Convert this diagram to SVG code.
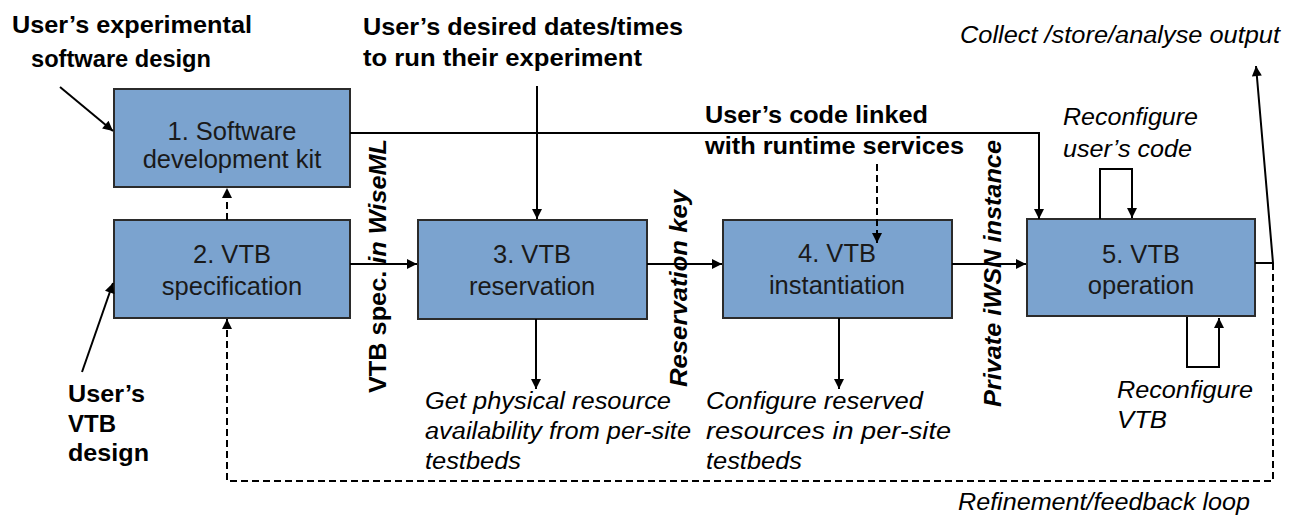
<svg xmlns="http://www.w3.org/2000/svg" width="1296" height="525" viewBox="0 0 1296 525">
<defs>
<marker id="ah" viewBox="0 0 10 10" refX="10" refY="5" markerWidth="11" markerHeight="10" markerUnits="userSpaceOnUse" orient="auto">
<path d="M0,0 L10,5 L0,10 z" fill="#000"/>
</marker>
<style>
.box{fill:#7BA3CF;stroke:#2b2b2b;stroke-width:2}
.nt{font-family:"Liberation Sans",Arial,sans-serif;font-size:25.5px;fill:#1a1a1a;text-anchor:middle}
.bl{font-family:"Liberation Sans",Arial,sans-serif;font-size:24px;font-weight:bold;fill:#000}
.it{font-family:"Liberation Sans",Arial,sans-serif;font-size:23px;font-style:italic;fill:#000}
.ln{fill:none;stroke:#000;stroke-width:2}
.da{fill:none;stroke:#000;stroke-width:2;stroke-dasharray:7,4}
</style>
</defs>
<rect width="1296" height="525" fill="#fff"/>
<g id="n1"><rect class="box" x="114" y="89" width="236" height="98"/><text class="nt" x="232" y="140">1. Software</text><text class="nt" x="232" y="168">development kit</text></g>
<g id="n2"><rect class="box" x="114" y="220" width="236" height="98"/><text class="nt" x="232" y="263">2. VTB</text><text class="nt" x="232" y="295">specification</text></g>
<g id="n3"><rect class="box" x="418" y="220" width="229" height="99"/><text class="nt" x="532" y="263">3. VTB</text><text class="nt" x="532" y="295">reservation</text></g>
<g id="n4"><rect class="box" x="723" y="220" width="229" height="98"/><text class="nt" x="837" y="262">4. VTB</text><text class="nt" x="837" y="294">instantiation</text></g>
<g id="n5"><rect class="box" x="1027" y="219" width="228" height="97"/><text class="nt" x="1141" y="263">5. VTB</text><text class="nt" x="1141" y="294">operation</text></g>
<g id="connectors">
<path class="ln" d="M60,87 L113,131" marker-end="url(#ah)"/>
<path class="ln" d="M82,372 L113,283" marker-end="url(#ah)"/>
<path class="da" d="M227,220 L227,188" marker-end="url(#ah)"/>
<path class="ln" d="M350,133 L1039,133 L1039,219" marker-end="url(#ah)"/>
<path class="ln" d="M537,86 L537,219" marker-end="url(#ah)"/>
<path class="ln" d="M350,264 L417,264" marker-end="url(#ah)"/>
<path class="ln" d="M647,264 L722,264" marker-end="url(#ah)"/>
<path class="ln" d="M952,264 L1026,264" marker-end="url(#ah)"/>
<path class="ln" d="M536,319 L536,389" marker-end="url(#ah)"/>
<path class="ln" d="M839,318 L839,389" marker-end="url(#ah)"/>
<path class="da" d="M877,164 L877,243" marker-end="url(#ah)"/>
<path class="ln" d="M1100,219 L1100,169 L1132,169 L1132,218" marker-end="url(#ah)"/>
<path class="ln" d="M1187,317 L1187,367 L1219,367 L1219,318" marker-end="url(#ah)"/>
<path class="ln" d="M1255,263 L1273,263 L1256,66" marker-end="url(#ah)"/>
<path class="da" d="M1273,263 L1273,481 L227,481 L227,319" marker-end="url(#ah)"/>
</g>
<g id="labels">
<text class="bl" x="12" y="33" textLength="240" lengthAdjust="spacingAndGlyphs">User’s experimental</text>
<text class="bl" x="31" y="67" textLength="180" lengthAdjust="spacingAndGlyphs">software design</text>
<text class="bl" x="363" y="35" textLength="320" lengthAdjust="spacingAndGlyphs">User’s desired dates/times</text>
<text class="bl" x="363" y="66" textLength="279" lengthAdjust="spacingAndGlyphs">to run their experiment</text>
<text class="bl" x="705" y="123" textLength="223" lengthAdjust="spacingAndGlyphs">User’s code linked</text>
<text class="bl" x="705" y="154" textLength="259" lengthAdjust="spacingAndGlyphs">with runtime services</text>
<text class="bl" x="68" y="402" textLength="77" lengthAdjust="spacingAndGlyphs">User’s</text>
<text class="bl" x="68" y="432">VTB</text>
<text class="bl" x="68" y="461" textLength="81" lengthAdjust="spacingAndGlyphs">design</text>
<text class="bl" transform="translate(386,393) rotate(-90)" textLength="254" lengthAdjust="spacingAndGlyphs">VTB spec. <tspan font-style="italic">in WiseML</tspan></text>
<text class="bl" font-style="italic" transform="translate(687,387) rotate(-90)" textLength="197" lengthAdjust="spacingAndGlyphs">Reservation key</text>
<text class="bl" font-style="italic" transform="translate(1001,407) rotate(-90)" textLength="267" lengthAdjust="spacingAndGlyphs">Private iWSN instance</text>
<text class="it" x="960" y="43" textLength="320" lengthAdjust="spacingAndGlyphs">Collect /store/analyse output</text>
<text class="it" x="1063" y="125" textLength="135" lengthAdjust="spacingAndGlyphs">Reconfigure</text>
<text class="it" x="1063" y="157" textLength="129" lengthAdjust="spacingAndGlyphs">user’s code</text>
<text class="it" x="1117" y="398" textLength="136" lengthAdjust="spacingAndGlyphs">Reconfigure</text>
<text class="it" x="1117" y="428" textLength="50" lengthAdjust="spacingAndGlyphs">VTB</text>
<text class="it" x="425" y="409" textLength="246" lengthAdjust="spacingAndGlyphs">Get physical resource</text>
<text class="it" x="425" y="439" textLength="266" lengthAdjust="spacingAndGlyphs">availability from per-site</text>
<text class="it" x="425" y="469" textLength="96" lengthAdjust="spacingAndGlyphs">testbeds</text>
<text class="it" x="706" y="409" textLength="217" lengthAdjust="spacingAndGlyphs">Configure reserved</text>
<text class="it" x="706" y="439" textLength="245" lengthAdjust="spacingAndGlyphs">resources in per-site</text>
<text class="it" x="706" y="469" textLength="96" lengthAdjust="spacingAndGlyphs">testbeds</text>
<text class="it" x="958" y="510" textLength="292" lengthAdjust="spacingAndGlyphs">Refinement/feedback loop</text>
</g>
</svg>
